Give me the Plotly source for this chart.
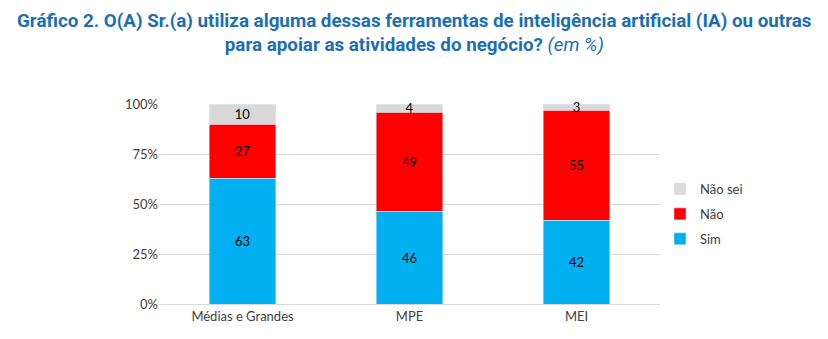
import plotly.graph_objects as go

categories = ["Médias e Grandes", "MPE", "MEI"]
sim = [63, 46, 42]
nao = [27, 49, 55]
nao_sei = [10, 4, 3]
y_ticks = [0, 25, 50, 75, 100]
y_tick_labels = ["0%", "25%", "50%", "75%", "100%"]

font_family = "Lato, Carlito, Liberation Sans, sans-serif"

fig = go.Figure()
series = [("Sim", sim, "#00B0F0", 3), ("Não", nao, "#FF0000", 2), ("Não sei", nao_sei, "#D9D9D9", 1)]
for name, vals, color, rank in series:
    fig.add_trace(go.Bar(
        x=categories, y=vals, name=name, marker_color=color,
        text=[str(v) for v in vals], textposition="inside", insidetextanchor="middle",
        textangle=0, constraintext="none", cliponaxis=False,
        textfont=dict(color="black", size=13, family=font_family),
        hoverinfo="name+y", width=0.4, legendgroup=name, legendrank=rank,
    ))

fig.update_layout(
    barmode="stack", barnorm="percent",
    width=828, height=339,
    margin=dict(l=159, r=168, t=104, b=35),
    paper_bgcolor="white", plot_bgcolor="white",
    font=dict(family=font_family, size=13, color="#404040"),
    showlegend=True,
    uniformtext=dict(minsize=13, mode="show"),
    legend=dict(x=1.0, y=0.45, xanchor="left", yanchor="middle",
                traceorder="grouped", font=dict(size=13, color="#404040"),
                itemwidth=30, tracegroupgap=5),
)
fig.update_yaxes(range=[0, 100.01], tickvals=y_ticks, ticktext=y_tick_labels,
                 showgrid=True, gridcolor="#D9D9D9", zeroline=False,
                 showline=False, ticks="", ticklen=0, fixedrange=True)
fig.update_xaxes(showline=True, linecolor="#D9D9D9", ticks="", showgrid=False)

fig.add_annotation(
    xref="paper", yref="paper", x=0.5, y=1, xanchor="center", yanchor="bottom",
    xshift=(828/2 - (159 + 501/2)), yshift=46,
    text="<b>Gráfico 2. O(A) Sr.(a) utiliza alguma dessas ferramentas de inteligência artificial (IA) ou outras</b><br>"
         "<b>para apoiar as atividades do negócio?</b> <i>(em %)</i>",
    showarrow=False, align="center",
    font=dict(family="Roboto, sans-serif", size=18.8, color="#1B6EB5"),
)

fig.write_html("out.html")
